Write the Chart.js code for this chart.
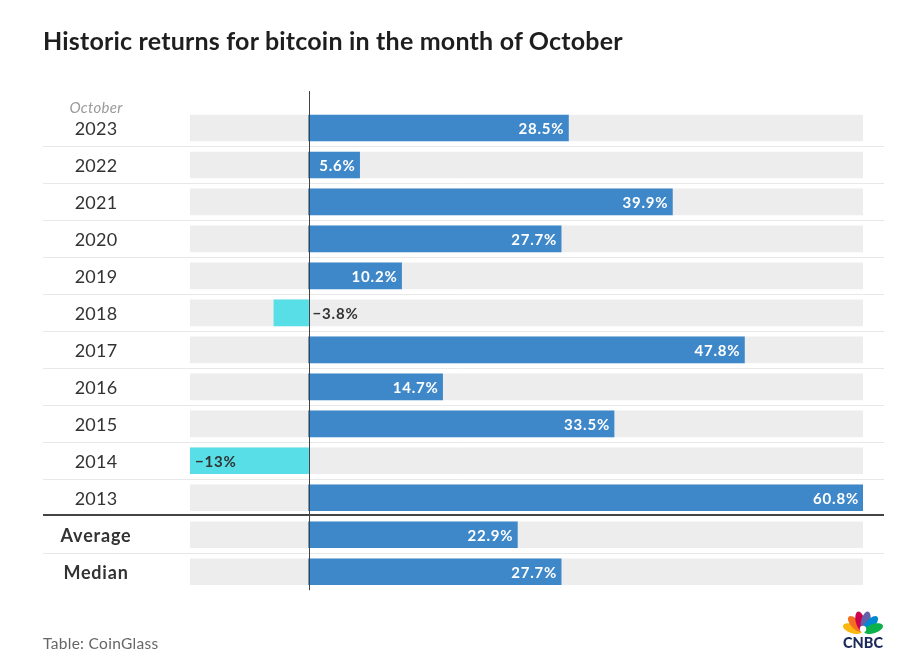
<!DOCTYPE html>
<html>
<head>
<meta charset="utf-8">
<script src="https://cdn.jsdelivr.net/npm/chart.js@4.4.0/dist/chart.umd.min.js"></script>
<style>
    body { margin: 0; background: #fff; font-family: Lato, sans-serif; }
    #wrap { position: relative; width: 910px; height: 664px; }
    #titulo { position: absolute; left: 43px; top: 25px; font-size: 25px; line-height: 30px; font-weight: 700; letter-spacing: 0.2px; color: #1e1e1e; white-space: nowrap; }
    #fonte { position: absolute; left: 43px; top: 634px; font-size: 15.5px; line-height: 18px; letter-spacing: 0.3px; color: #666; }
    canvas { position: absolute; left: 0; top: 0; }
    #logo { position: absolute; left: 836px; top: 609px; }
</style>
</head>
<body>
<div id="wrap">
    <canvas id="retornosChart" width="910" height="664"></canvas>
    <div id="titulo">Historic returns for bitcoin in the month of October</div>
    <div id="fonte">Table: CoinGlass</div>
    <svg id="logo" width="54" height="42" viewBox="0 0 54 42">
        <g transform="translate(27,23)">
            <ellipse cx="0" cy="-11" rx="4.6" ry="10" fill="#fcb711" transform="rotate(-72)"/>
            <ellipse cx="0" cy="-11" rx="4.6" ry="10" fill="#f37021" transform="rotate(-43)"/>
            <ellipse cx="0" cy="-11" rx="4.6" ry="10" fill="#cc004c" transform="rotate(-14)"/>
            <ellipse cx="0" cy="-11" rx="4.6" ry="10" fill="#6460aa" transform="rotate(14)"/>
            <ellipse cx="0" cy="-11" rx="4.6" ry="10" fill="#0089d0" transform="rotate(43)"/>
            <ellipse cx="0" cy="-11" rx="4.6" ry="10" fill="#0db14b" transform="rotate(72)"/>
            <circle cx="0" cy="-3" r="3.2" fill="#fff"/>
        </g>
        <text x="27" y="39" text-anchor="middle" font-family="Lato, sans-serif" font-weight="900" font-size="14.5" fill="#1b2a5a">CNBC</text>
    </svg>
</div>
<script>
// --- Dados ---
const categorias = ['2023', '2022', '2021', '2020', '2019', '2018', '2017', '2016', '2015', '2014', '2013', 'Average', 'Median'];
const retornos = [28.5, 5.6, 39.9, 27.7, 10.2, -3.8, 47.8, 14.7, 33.5, -13, 60.8, 22.9, 27.7];
const eixoMin = -13;
const eixoMax = 60.8;
const cabecalho = 'October';
const linhasResumo = ['Average', 'Median'];

// --- Cores ---
const corPositivo = '#3e88ca';
const corNegativo = '#57dee6';
const corFundo = '#ededed';

function formatarValor(v) {
    return (v < 0 ? '\u2212' : '') + Math.abs(v) + '%';
}

// --- Plugin: separadores, linha do zero, rótulos ---
const desenhoTabela = {
    id: 'desenhoTabela',
    beforeDatasetsDraw(chart) {
        const { ctx, scales: { y } } = chart;
        ctx.save();
        for (let i = 1; i < categorias.length; i++) {
            const yy = (y.getPixelForValue(i - 1) + y.getPixelForValue(i)) / 2;
            const resumo = linhasResumo.includes(categorias[i]) && !linhasResumo.includes(categorias[i - 1]);
            ctx.beginPath();
            if (resumo) {
                ctx.strokeStyle = '#444';
                ctx.lineWidth = 2;
                ctx.moveTo(43, Math.round(yy) - 1);
                ctx.lineTo(884, Math.round(yy) - 1);
            } else {
                ctx.strokeStyle = '#e8e8e8';
                ctx.lineWidth = 1;
                ctx.moveTo(43, Math.round(yy) + 0.5);
                ctx.lineTo(884, Math.round(yy) + 0.5);
            }
            ctx.stroke();
        }
        ctx.restore();
    },
    afterDatasetsDraw(chart) {
        const { ctx, chartArea, scales: { x, y } } = chart;
        const meta = chart.getDatasetMeta(0);
        ctx.save();

        // linha do zero
        const x0 = Math.round(x.getPixelForValue(0)) + 0.5;
        ctx.beginPath();
        ctx.strokeStyle = '#444';
        ctx.lineWidth = 1;
        ctx.moveTo(x0, 91);
        ctx.lineTo(x0, chartArea.bottom);
        ctx.stroke();

        // rótulos dos valores
        ctx.textBaseline = 'middle';
        ctx.font = '700 15px Lato, sans-serif';
        ctx.letterSpacing = '0.8px';
        meta.data.forEach((bar, i) => {
            const v = retornos[i];
            const txt = formatarValor(v);
            if (v >= 0) {
                ctx.fillStyle = '#fff';
                ctx.textAlign = 'right';
                ctx.fillText(txt, bar.x - 4, bar.y + 1);
            } else {
                const w = ctx.measureText(txt).width;
                ctx.fillStyle = '#333';
                ctx.textAlign = 'left';
                if (bar.base - bar.x > w + 10) {
                    ctx.fillText(txt, bar.x + 5, bar.y + 1);
                } else {
                    ctx.fillText(txt, bar.base + 4, bar.y + 1);
                }
            }
        });

        // rótulos das linhas
        ctx.textAlign = 'center';
        categorias.forEach((c, i) => {
            const yy = y.getPixelForValue(i);
            const resumo = linhasResumo.includes(c);
            ctx.fillStyle = '#333';
            ctx.letterSpacing = resumo ? '0.8px' : '0.2px';
            ctx.font = resumo ? '700 18px Lato, sans-serif' : '400 18px Lato, sans-serif';
            ctx.fillText(c, 96, yy + 1);
            if (i === 0) {
                ctx.fillStyle = '#9a9a9a';
                ctx.letterSpacing = '0.3px';
                ctx.font = 'italic 400 15px Lato, sans-serif';
                ctx.fillText(cabecalho, 96, yy - 20);
            }
        });
        ctx.restore();
    }
};

// --- Gráfico ---
let retornosChart = null;

function inicializarGrafico() {
    const ctx = document.getElementById('retornosChart');
    retornosChart = new Chart(ctx, {
        type: 'bar',
        data: {
            labels: categorias,
            datasets: [{
                label: 'Retorno',
                data: retornos,
                backgroundColor: retornos.map(v => v < 0 ? corNegativo : corPositivo),
                borderWidth: 0,
                barThickness: 26,
                grouped: false,
                order: 1
            }, {
                label: 'Fundo',
                data: categorias.map(() => [eixoMin, eixoMax]),
                backgroundColor: corFundo,
                borderWidth: 0,
                barThickness: 26,
                grouped: false,
                order: 2
            }]
        },
        options: {
            indexAxis: 'y',
            responsive: false,
            animation: false,
            devicePixelRatio: 1,
            layout: { padding: { left: 190, right: 47, top: 109.5, bottom: 73.8 } },
            plugins: {
                legend: { display: false },
                tooltip: { enabled: false }
            },
            scales: {
                x: { min: eixoMin, max: eixoMax, display: false },
                y: { display: false }
            }
        },
        plugins: [desenhoTabela]
    });
}

window.onload = inicializarGrafico;
</script>
</body>
</html>
